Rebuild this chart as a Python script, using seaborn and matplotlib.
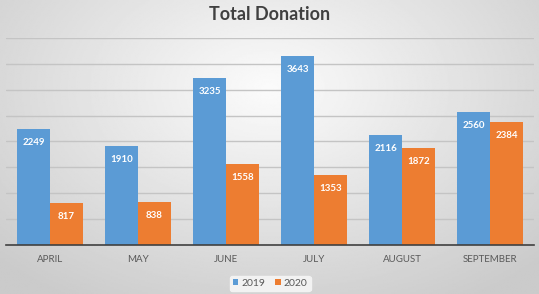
import numpy as np
import pandas as pd
import seaborn as sns
import matplotlib.pyplot as plt

months = ['APRIL', 'MAY', 'JUNE', 'JULY', 'AUGUST', 'SEPTEMBER']
donation_2019 = [2249, 1910, 3235, 3643, 2116, 2560]
donation_2020 = [817, 838, 1558, 1353, 1872, 2384]
years = ['2019', '2020']

df = pd.DataFrame({
    'Month': months * 2,
    'Year': [years[0]] * len(months) + [years[1]] * len(months),
    'Donation': donation_2019 + donation_2020,
})

sns.set_style('white')
plt.rcParams['font.family'] = ['Lato', 'DejaVu Sans']

fig = plt.figure(figsize=(5.39, 2.94), dpi=100)
fig.patch.set_facecolor('#e6e6e6')
fig.patch.set_edgecolor('#5a5a5a')
fig.patch.set_linewidth(2.5)

# soft radial background like the office chart
bg = fig.add_axes([0, 0, 1, 1], zorder=-1)
yy, xx = np.mgrid[-1:1:200j, -1:1:400j]
r = np.sqrt((xx * 0.85) ** 2 + ((yy + 0.4) * 0.7) ** 2)
bg.imshow(0.985 - 0.16 * np.clip(r, 0, 1.2), cmap='gray', vmin=0, vmax=1,
          aspect='auto', extent=[0, 1, 0, 1])
bg.axis('off')

ax = fig.add_axes([0.011, 0.167, 0.98, 0.704])
ax.patch.set_alpha(0)
sns.barplot(data=df, x='Month', y='Donation', hue='Year', order=months,
            palette=['#5b9bd5', '#ed7d31'], width=0.75, gap=0, ax=ax,
            saturation=1, errorbar=None, zorder=3, linewidth=0)

for c in ax.containers:
    ax.bar_label(c, padding=-13, color='white', fontsize=7, fontweight='bold')

ax.set_ylim(0, 4000)
ax.set_yticks(np.arange(0, 4001, 500))
ax.yaxis.grid(True, color='#c4c4c4', linewidth=1)
ax.set_axisbelow(True)
ax.tick_params(axis='y', left=False, labelleft=False)
ax.tick_params(axis='x', length=0, labelsize=7, labelcolor='#595959', pad=7)
ax.set_xlabel('')
ax.set_ylabel('')
for s in ['left', 'right', 'top']:
    ax.spines[s].set_visible(False)
ax.spines['bottom'].set_color('#404040')
ax.spines['bottom'].set_linewidth(1.2)
ax.spines['bottom'].set_zorder(4)

ax.legend(loc='upper center', bbox_to_anchor=(0.5, -0.125), ncol=2,
          frameon=True, facecolor='#f2f2f2', edgecolor='#f2f2f2', framealpha=1,
          fontsize=7.5, labelcolor='#595959', handlelength=0.5, handleheight=0.5,
          handletextpad=0.3, columnspacing=1.0, borderpad=0.3)

fig.text(0.5, 0.95, 'Total Donation', ha='center', va='center',
         fontsize=13, fontweight='bold', color='#404040')

fig.savefig('out.png', dpi=100)
